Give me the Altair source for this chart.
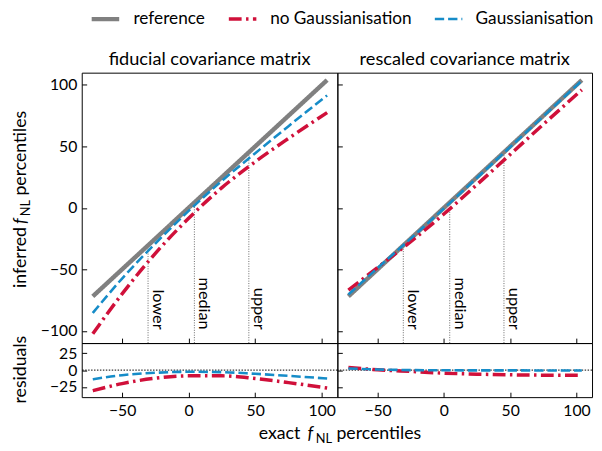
import altair as alt
import pandas as pd

# ---------------- data ----------------
EXACT = [-72, -50, -25, 0, 25, 50, 75, 104]
REFERENCE = [-72, -50, -25, 0, 25, 50, 75, 104]

# fiducial covariance matrix (left column)
NOGAUSS_FID = [-102.5, -70.0, -37.0, -8.5, 16.5, 37.5, 56.5, 77.5]
GAUSS_FID = [-85.5, -57.5, -29.0, -2.5, 22.0, 44.5, 66.5, 91.5]
RESID_NOGAUSS_FID = [-30.5, -20.0, -12.0, -8.5, -8.5, -12.5, -18.5, -26.5]
RESID_GAUSS_FID = [-13.5, -7.5, -4.0, -2.5, -3.0, -5.5, -8.5, -12.5]

# rescaled covariance matrix (right column)
NOGAUSS_RES = [-67.0, -48.5, -27.5, -5.0, 19.0, 43.5, 68.0, 96.0]
GAUSS_RES = [-70.5, -49.0, -25.0, -0.5, 24.5, 49.5, 74.5, 103.5]
RESID_NOGAUSS_RES = [3.8, 0.5, -2.0, -4.5, -6.0, -7.0, -7.5, -7.8]
RESID_GAUSS_RES = [2.5, 1.0, 0.0, -0.3, -0.4, -0.4, -0.5, -0.5]

PCT_NAMES = ["lower", "median", "upper"]
PCT_FID = [-30.5, 4.3, 45.2]
PCT_RES = [-30.6, 4.4, 45.3]
PCT_LABEL_END = -99

PANEL_TITLES = ["fiducial covariance matrix", "rescaled covariance matrix"]
SERIES = ["reference", "no Gaussianisation", "Gaussianisation"]
COLORS = ["#808080", "#d0103a", "#168cc8"]
DASHES = [[1, 0], [13, 4.5, 2.5, 4.5], [9.5, 4]]
WIDTHS = [4.5, 2.6, 2.6]

X_TICKS = [-50, 0, 50, 100]
MAIN_TICKS = [-100, -50, 0, 50, 100]
RESID_TICKS = [-25, 0, 25]
X_DOMAIN = [-80.3, 111.7]
MAIN_DOMAIN = [-110, 110]
RESID_DOMAIN = [-40, 40]

YTITLE_PARTS = ["inferred", "f", "NL", "percentiles"]
XTITLE_PARTS = ["exact", "f", "NL", "percentiles"]
RESID_TITLE = "residuals"

FONT = "Lato"
W_LEFT, W_RIGHT, H_MAIN, H_RESID = 260, 259, 275, 55

# ---------------- helpers ----------------
def x_axis(labels):
    return alt.Axis(values=X_TICKS, labels=labels, title=None, domain=False, grid=False,
                    ticks=True, tickSize=5, offset=-5, tickColor="black", tickWidth=1,
                    labelPadding=6, labelFont=FONT, labelFontSize=16, labelColor="black",
                    labelFlush=False, labelOverlap=False)


def y_axis(values, labels):
    return alt.Axis(values=values, labels=labels, title=None, domain=False, grid=False,
                    ticks=True, tickSize=5, offset=-5, tickColor="black", tickWidth=1,
                    labelPadding=5, labelFont=FONT, labelFontSize=16, labelColor="black",
                    labelFlush=False, labelOverlap=False)


LEG = alt.Legend(title=None, orient="none", legendX=7.6, legendY=-63.5, direction="horizontal",
                 symbolType="stroke", symbolSize=784, clipHeight=18, labelFont=FONT,
                 labelFontSize=17.5, labelColor="black", labelOffset=12, columnPadding=22,
                 padding=0)

COLOR = alt.Color("series:N", scale=alt.Scale(domain=SERIES, range=COLORS), legend=LEG)
DASH = alt.StrokeDash("series:N", scale=alt.Scale(domain=SERIES, range=DASHES), legend=LEG)
SWIDTH = alt.StrokeWidth("series:N", scale=alt.Scale(domain=SERIES, range=WIDTHS), legend=LEG)


def text_piece(txt, x, y, size=18, angle=0, align="left", style="normal", baseline="alphabetic"):
    return alt.Chart(pd.DataFrame({"t": [txt]})).mark_text(
        font=FONT, fontSize=size, fontStyle=style, angle=angle, align=align,
        baseline=baseline, color="black"
    ).encode(text="t:N", x=alt.value(x), y=alt.value(y))


def line_layers(df, names, xenc, yenc):
    layers = []
    for s in names:
        layers.append(
            alt.Chart(df).transform_filter(alt.datum.series == s)
            .mark_line(interpolate="monotone")
            .encode(x=xenc, y=yenc, color=COLOR, strokeDash=DASH, strokeWidth=SWIDTH)
        )
    return layers


def main_cell(idx, nogauss, gauss, pct, left, width):
    df = pd.DataFrame({
        "exact": EXACT * 3,
        "inferred": REFERENCE + nogauss + gauss,
        "series": [s for s in SERIES for _ in EXACT],
    })
    xs = alt.Scale(domain=X_DOMAIN, nice=False, zero=False)
    ys = alt.Scale(domain=MAIN_DOMAIN, nice=False, zero=False)
    xax = x_axis(False)
    yax = y_axis(MAIN_TICKS, left)
    pdf = pd.DataFrame({"pos": pct, "bottom": [MAIN_DOMAIN[0]] * 3, "top": pct,
                        "name": PCT_NAMES, "lab": [PCT_LABEL_END] * 3})
    rules = alt.Chart(pdf).mark_rule(color="#666666", strokeDash=[1, 1.5], strokeWidth=1).encode(
        x=alt.X("pos:Q", scale=xs, axis=xax),
        y=alt.Y("bottom:Q", scale=ys, axis=yax),
        y2="top:Q",
    )
    labels = alt.Chart(pdf).mark_text(angle=90, align="right", baseline="alphabetic", dy=-5,
                                      font=FONT, fontSize=16.5, color="black").encode(
        x=alt.X("pos:Q", scale=xs, axis=xax),
        y=alt.Y("lab:Q", scale=ys, axis=yax),
        text="name:N",
    )
    layers = [rules, labels] + line_layers(
        df, SERIES,
        alt.X("exact:Q", scale=xs, axis=xax),
        alt.Y("inferred:Q", scale=ys, axis=yax),
    )
    layers.append(text_piece(PANEL_TITLES[idx], width / 2, -7.5, size=18.5, align="center"))
    if left:
        marker = alt.Chart(pd.DataFrame({"a": [0]})).mark_rule(opacity=0, strokeWidth=0).encode(
            x=alt.value(-74), x2=alt.value(-74), y=alt.value(-64), y2=alt.value(-64))
        layers += [
            marker,
            text_piece(YTITLE_PARTS[0], -57, 219, angle=270),
            text_piece(YTITLE_PARTS[1], -57, 154, angle=270, style="italic"),
            text_piece(YTITLE_PARTS[2], -53, 146, size=13, angle=270),
            text_piece(YTITLE_PARTS[3], -57, 125, angle=270),
        ]
    return alt.layer(*layers).properties(width=width, height=H_MAIN)


def resid_cell(rnog, rg, left, width):
    df = pd.DataFrame({
        "exact": EXACT * 2,
        "resid": rnog + rg,
        "series": [s for s in SERIES[1:] for _ in EXACT],
    })
    xs = alt.Scale(domain=X_DOMAIN, nice=False, zero=False)
    ys = alt.Scale(domain=RESID_DOMAIN, nice=False, zero=False)
    xax = x_axis(True)
    yax = y_axis(RESID_TICKS, left)
    zero = alt.Chart(pd.DataFrame({"z": [0]})).mark_rule(
        color="black", strokeDash=[1.5, 1.5], strokeWidth=1).encode(
        y=alt.Y("z:Q", scale=ys, axis=yax))
    layers = [zero] + line_layers(
        df, SERIES[1:],
        alt.X("exact:Q", scale=xs, axis=xax),
        alt.Y("resid:Q", scale=ys, axis=yax),
    )
    if left:
        layers += [
            text_piece(RESID_TITLE, -57, 27, angle=270, align="center"),
            text_piece(XTITLE_PARTS[0], 180, 98),
            text_piece(XTITLE_PARTS[1], 229.5, 98, style="italic"),
            text_piece(XTITLE_PARTS[2], 238, 102, size=13),
            text_piece(XTITLE_PARTS[3], 259, 98),
        ]
    return alt.layer(*layers).properties(width=width, height=H_RESID)


main_l = main_cell(0, NOGAUSS_FID, GAUSS_FID, PCT_FID, True, W_LEFT)
main_r = main_cell(1, NOGAUSS_RES, GAUSS_RES, PCT_RES, False, W_RIGHT)
res_l = resid_cell(RESID_NOGAUSS_FID, RESID_GAUSS_FID, True, W_LEFT)
res_r = resid_cell(RESID_NOGAUSS_RES, RESID_GAUSS_RES, False, W_RIGHT)

chart = alt.concat(main_l, main_r, res_l, res_r, columns=2, spacing=0, bounds="flush").properties(
    padding={"top": -3, "left": 0, "right": 0, "bottom": 0}
).configure_view(stroke="black", strokeWidth=1)

chart.save("out.html", embed_options={"renderer": "svg", "actions": False})
